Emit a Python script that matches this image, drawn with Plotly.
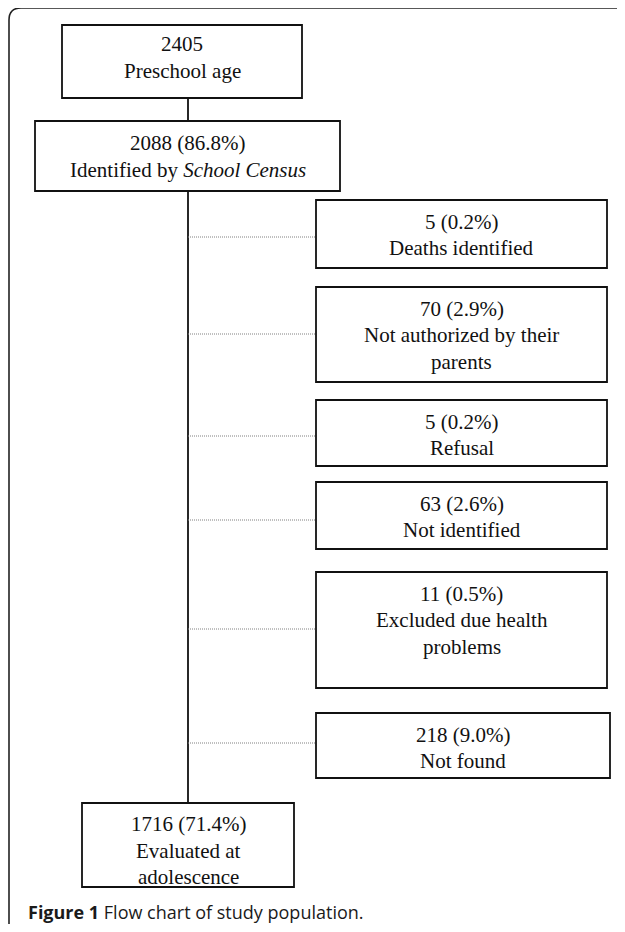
import plotly.graph_objects as go

# ---- data ----
top_count = 2405
top_label = "Preschool age"
census_count = 2088
census_pct = 86.8
census_label = "Identified by <i>School Census</i>"
loss_counts = [5, 70, 5, 63, 11, 218]
loss_pcts = [0.2, 2.9, 0.2, 2.6, 0.5, 9.0]
loss_labels = [
    ["Deaths identified"],
    ["Not authorized by their", "parents"],
    ["Refusal"],
    ["Not identified"],
    ["Excluded due health", "problems"],
    ["Not found"],
]
final_count = 1716
final_pct = 71.4
final_label = ["Evaluated at", "adolescence"]
caption_bold = "Figure 1"
caption_text = "Flow chart of study population."

# ---- layout geometry (page pixels, y downward) ----
PAGE_W, PAGE_H = 625, 932
OFF = 8  # browser body margin
box1 = (62, 25, 302, 98)
box2 = (35, 121, 340, 191)
loss_boxes = [
    (316, 200, 607, 268),
    (316, 287, 607, 382),
    (316, 400, 607, 466),
    (316, 482, 607, 549),
    (316, 572, 607, 688),
    (316, 713, 610, 778),
]
loss_dot_y = [237, 334, 436, 520, 629, 743]
final_box = (82, 803, 294, 887)
spine_x = 188
line_gap = 26.5
first_line = 21.5

SERIF = "Liberation Serif, Times New Roman, serif"
fs = 21
INK = "#111111"

fig = go.Figure()
fig.add_trace(go.Scatter(x=[OFF, PAGE_W], y=[OFF, PAGE_H], mode="markers", marker=dict(opacity=0),
                         hoverinfo="skip", showlegend=False))

shapes = []
annotations = []


def rect(b):
    shapes.append(dict(type="rect", x0=b[0], y0=b[1], x1=b[2], y1=b[3],
                       line=dict(color=INK, width=1.8), fillcolor="rgba(0,0,0,0)", layer="above"))


def text_lines(lines, cx, y_first):
    for i, t in enumerate(lines):
        annotations.append(dict(x=cx, y=y_first + i * line_gap, text=t, showarrow=False,
                                xanchor="center", yanchor="middle",
                                font=dict(family=SERIF, size=fs, color=INK)))


# outer rounded frame (runs past the right and bottom page edges)
r = 12
x0f, y0f, x1f, y1f = 9, 8, 650, 950
shapes.append(dict(type="path",
                   path=f"M {x0f+r},{y0f} L {x1f-r},{y0f} Q {x1f},{y0f} {x1f},{y0f+r} L {x1f},{y1f-r} "
                        f"Q {x1f},{y1f} {x1f-r},{y1f} L {x0f+r},{y1f} Q {x0f},{y1f} {x0f},{y1f-r} "
                        f"L {x0f},{y0f+r} Q {x0f},{y0f} {x0f+r},{y0f} Z",
                   line=dict(color="#222222", width=1.6), fillcolor="rgba(0,0,0,0)"))

# box 1
rect(box1)
text_lines([str(top_count), top_label], (box1[0] + box1[2]) / 2, 44)
shapes.append(dict(type="line", x0=spine_x, y0=box1[3], x1=spine_x, y1=box2[1],
                   line=dict(color=INK, width=1.8)))
# box 2
rect(box2)
text_lines([f"{census_count} ({census_pct}%)", census_label], (box2[0] + box2[2]) / 2, 143)
# spine
shapes.append(dict(type="line", x0=spine_x, y0=box2[3], x1=spine_x, y1=final_box[1],
                   line=dict(color=INK, width=1.8)))

# loss boxes
for b, dy, c, p, lab in zip(loss_boxes, loss_dot_y, loss_counts, loss_pcts, loss_labels):
    rect(b)
    shapes.append(dict(type="line", x0=spine_x, y0=dy, x1=b[0], y1=dy,
                       line=dict(color="#808080", width=1, dash="1px,1px")))
    text_lines([f"{c} ({p}%)"] + lab, (b[0] + b[2]) / 2, b[1] + first_line)

# final box
rect(final_box)
text_lines([f"{final_count} ({final_pct}%)", *final_label], (final_box[0] + final_box[2]) / 2, 824)

# caption
annotations.append(dict(x=26, y=912, text=f"<b>{caption_bold}</b> {caption_text}", showarrow=False,
                        xanchor="left", yanchor="middle",
                        font=dict(family="Open Sans, sans-serif", size=18, color="#1a1a1a")))

fig.update_layout(
    width=PAGE_W - OFF, height=PAGE_H - 2 * OFF, margin=dict(l=0, r=0, t=0, b=0),
    paper_bgcolor="white", plot_bgcolor="white",
    xaxis=dict(range=[OFF, PAGE_W], visible=False, fixedrange=True),
    yaxis=dict(range=[PAGE_H - OFF, OFF], visible=False, fixedrange=True),
    shapes=shapes, annotations=annotations, showlegend=False,
)

fig.write_html("out.html", config={"displayModeBar": False})
